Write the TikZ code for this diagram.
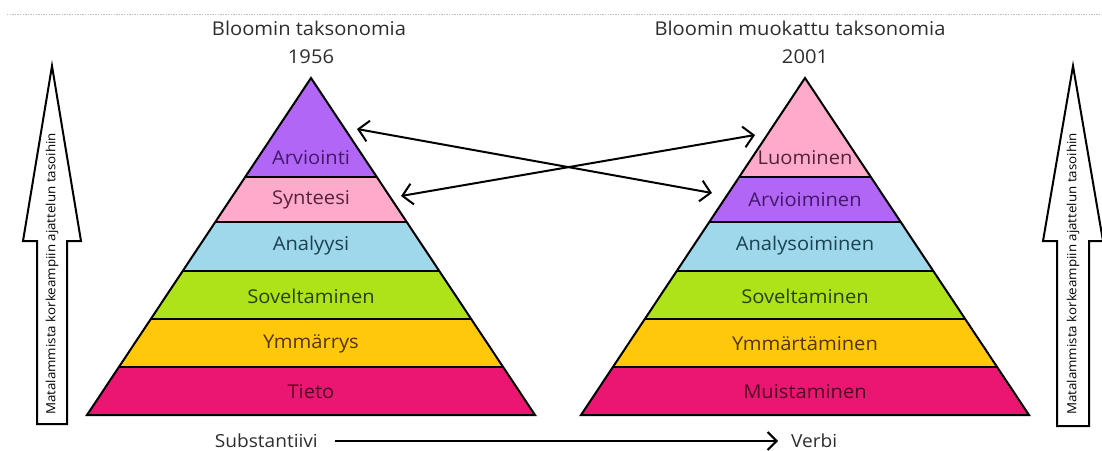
\documentclass[tikz,border=0pt]{standalone}
\usepackage{fontspec}
\setmainfont{Open Sans}[FakeStretch=1.06]
\usetikzlibrary{arrows.meta,calc}
\definecolor{cPur}{HTML}{B266F5}
\definecolor{cPink}{HTML}{FFAACB}
\definecolor{cBlue}{HTML}{9ED8EA}
\definecolor{cGreen}{HTML}{AEE31A}
\definecolor{cYel}{HTML}{FFC80A}
\definecolor{cMag}{HTML}{EB1572}
\definecolor{tPur}{HTML}{42186A}
\definecolor{tPink}{HTML}{52243A}
\definecolor{tBlue}{HTML}{1A4252}
\definecolor{tGreen}{HTML}{284206}
\definecolor{tYel}{HTML}{523400}
\definecolor{tMag}{HTML}{520824}
\definecolor{tGray}{HTML}{2E2E2E}
\tikzset{
  band/.style={inner sep=0pt, font=\fontsize{19}{22}\selectfont},
  ttl/.style={inner sep=0pt, text=tGray, font=\fontsize{19}{22}\selectfont},
  outl/.style={line width=2pt, line join=miter},
  conn/.style={line width=2pt, {Straight Barb[length=10pt,width=21pt,line width=2pt]}-{Straight Barb[length=10pt,width=21pt,line width=2pt]}},
  bigarrow/.style={line width=2pt, line join=miter, fill=white},
  sidetxt/.style={inner sep=0pt, rotate=90, font=\fontsize{12.6}{14}\selectfont}
}
\newcommand\drawpyr[7]{%
  \foreach \yt/\yb/\cc in {78/177/#2, 177/222/#3, 222/271/#4, 271/319/#5, 319/367/#6, 367/415/#7}{
    \pgfmathsetmacro\wt{0.66469*(\yt-78)}
    \pgfmathsetmacro\wb{0.66469*(\yb-78)}
    \fill[\cc] (#1-\wt,\yt) -- (#1+\wt,\yt) -- (#1+\wb,\yb) -- (#1-\wb,\yb) -- cycle;
  }
  \foreach \yy in {177,222,271,319,367}{
    \pgfmathsetmacro\ww{0.66469*(\yy-78)}
    \draw[outl] (#1-\ww,\yy) -- (#1+\ww,\yy);
  }
  \draw[outl] (#1,78) -- (#1+224,415) -- (#1-224,415) -- cycle;
}
\begin{document}
\begin{tikzpicture}[x=1pt,y=-1pt]
\useasboundingbox (0,0) rectangle (1102,450);
\fill[white] (0,0) rectangle (1102,450);
\draw[black!25, line width=1pt, dash pattern=on 1.3pt off 1.3pt] (7,14) -- (1102,14);

% titles
\node[ttl] (t1) at (309,28) {Bloomin taksonomia};
\node[ttl] (t1y) at (311,57) {1956};
\node[ttl] (t2) at (800,28) {Bloomin muokattu taksonomia};
\node[ttl] (t2y) at (805,57) {2001};

% pyramids
\drawpyr{311}{cPur}{cPink}{cBlue}{cGreen}{cYel}{cMag}
\drawpyr{805}{cPink}{cPur}{cBlue}{cGreen}{cYel}{cMag}

\node[band, text=tPur]   (l1) at (311,158) {Arviointi};
\node[band, text=tPink]  (l2) at (311,200) {Synteesi};
\node[band, text=tBlue]  (l3) at (311,246) {Analyysi};
\node[band, text=tGreen] (l4) at (311,296) {Soveltaminen};
\node[band, text=tYel]   (l5) at (311,344) {Ymmärrys};
\node[band, text=tMag]   (l6) at (311,392) {Tieto};

\node[band, text=tPink]  (r1) at (805,158) {Luominen};
\node[band, text=tPur]   (r2) at (805,200) {Arvioiminen};
\node[band, text=tBlue]  (r3) at (805,246) {Analysoiminen};
\node[band, text=tGreen] (r4) at (805,296) {Soveltaminen};
\node[band, text=tYel]   (r5) at (805,344) {Ymmärtäminen};
\node[band, text=tMag]   (r6) at (805,392) {Muistaminen};

% crossing arrows
\coordinate (aA1) at (357,129);
\coordinate (aA2) at (712,193);
\coordinate (aB1) at (401,196);
\coordinate (aB2) at (755,135);
\draw[conn] (aA1) -- (aA2);
\draw[conn] (aB1) -- (aB2);

% side arrows
\draw[bigarrow] (52,66) -- (81,241) -- (67,241) -- (67,424) -- (37,424) -- (37,241) -- (23,241) -- cycle;
\node[sidetxt] (sl) at (52,274) {Matalammista korkeampiin ajattelun tasoihin};
\draw[bigarrow] (1073,66) -- (1103,241) -- (1089,241) -- (1089,426) -- (1057,426) -- (1057,241) -- (1043,241) -- cycle;
\node[sidetxt] (sr) at (1073,274) {Matalammista korkeampiin ajattelun tasoihin};

% bottom
\node[ttl, anchor=east, font=\fontsize{18}{21}\selectfont] (sub) at (318,441) {Substantiivi};
\node[ttl, anchor=west, font=\fontsize{18}{21}\selectfont] (verb) at (791,441) {Verbi};
\coordinate (bs) at (335,441);
\coordinate (be) at (778,441);
\draw[line width=2pt, -{Straight Barb[length=9pt,width=18pt,line width=2pt]}] (bs) -- (be);
\end{tikzpicture}
\end{document}
